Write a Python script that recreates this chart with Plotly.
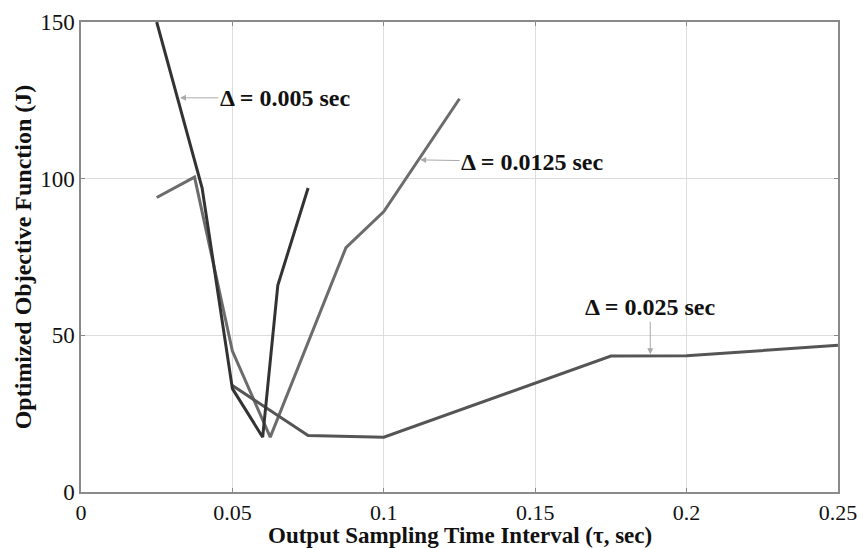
import plotly.graph_objects as go

# Δ = 0.005 sec
x_005 = [0.025, 0.04, 0.05, 0.06, 0.065, 0.075]
y_005 = [150, 97, 33, 17.5, 66, 97]

# Δ = 0.0125 sec
x_0125 = [0.025, 0.0375, 0.05, 0.0625, 0.0875, 0.1, 0.125]
y_0125 = [94, 100.5, 45, 17.5, 78, 89.5, 125.5]

# Δ = 0.025 sec
x_025 = [0.05, 0.075, 0.1, 0.175, 0.2, 0.25]
y_025 = [34, 18, 17.5, 43.4, 43.5, 46.8]

x_ticks = [0, 0.05, 0.1, 0.15, 0.2, 0.25]
x_tick_labels = ["0", "0.05", "0.1", "0.15", "0.2", "0.25"]
y_ticks = [0, 50, 100, 150]
y_tick_labels = ["0", "50", "100", "150"]

SERIF = "Liberation Serif"

fig = go.Figure()
fig.add_trace(go.Scatter(x=x_0125, y=y_0125, mode="lines",
                         line=dict(color="#6c6c6c", width=3), showlegend=False))
fig.add_trace(go.Scatter(x=x_025, y=y_025, mode="lines",
                         line=dict(color="#555555", width=3), showlegend=False))
fig.add_trace(go.Scatter(x=x_005, y=y_005, mode="lines",
                         line=dict(color="#333333", width=3), showlegend=False))

ann_font = dict(family=SERIF, size=24, color="#111111")
def ann(x, y, text, ax, ay):
    return dict(x=x, y=y, xref="x", yref="y", text="<b>" + text + "</b>",
                showarrow=True, arrowhead=2, arrowsize=1.2, arrowwidth=1,
                arrowcolor="#aaaaaa", ax=ax, ay=ay, font=ann_font)

annotations = [
    ann(0.0327, 125.8, "Δ = 0.005 sec", 105, 0),
    ann(0.112, 106, "Δ = 0.0125 sec", 112, 2),
    ann(0.188, 44, "Δ = 0.025 sec", 0, -47),
    dict(text="<b>Output Sampling Time Interval (τ, sec)</b>", xref="paper", yref="paper",
         x=0.5, y=0, yshift=-43, xanchor="center", yanchor="middle", showarrow=False,
         font=dict(family=SERIF, size=23, color="#111111")),
]

fig.update_layout(
    width=863, height=548,
    margin=dict(l=81, r=25, t=22, b=56),
    paper_bgcolor="white", plot_bgcolor="white",
    annotations=annotations,
    xaxis=dict(range=[0, 0.25], tickvals=x_ticks, ticktext=x_tick_labels,
               automargin=False,
               showgrid=True, gridcolor="#dcdcdc", gridwidth=1,
               showline=True, linecolor="#8a8a8a", linewidth=1.5, mirror="ticks",
               ticks="inside", ticklen=4, tickcolor="#8a8a8a", zeroline=False,
               tickfont=dict(family=SERIF, size=22, color="#111111")),
    yaxis=dict(range=[0, 150], tickvals=y_ticks, ticktext=y_tick_labels,
               automargin=False,
               showgrid=True, gridcolor="#dcdcdc", gridwidth=1,
               showline=True, linecolor="#8a8a8a", linewidth=1.5, mirror="ticks",
               ticks="inside", ticklen=4, tickcolor="#8a8a8a", zeroline=False,
               tickfont=dict(family=SERIF, size=23, color="#111111"),
               title=dict(text="<b>Optimized Objective Function (J)</b>",
                          font=dict(family=SERIF, size=24, color="#111111"), standoff=2)),
)

fig.write_html("out.html", config={"displayModeBar": False},
               post_script="document.body.style.margin='0';document.body.style.overflow='hidden';")
